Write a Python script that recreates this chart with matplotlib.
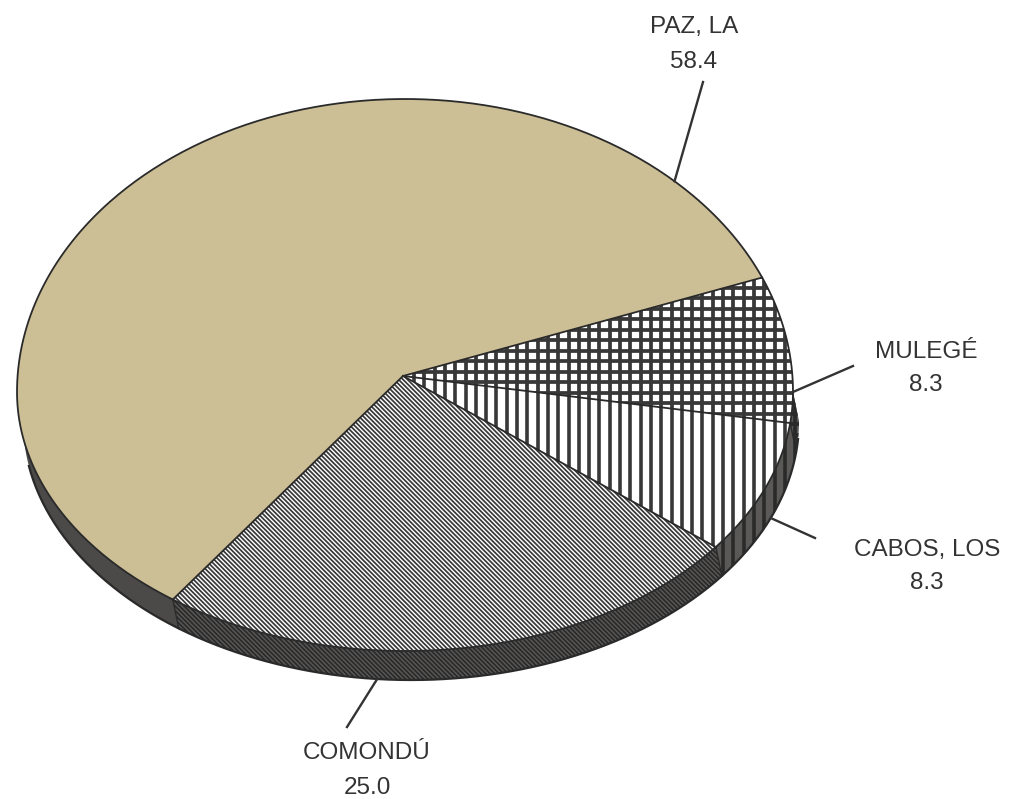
import numpy as np
import matplotlib
matplotlib.use("Agg")
import matplotlib.pyplot as plt
from matplotlib.patches import Polygon
from matplotlib.collections import LineCollection

# Datos: distribución porcentual por municipio
municipios = ["PAZ, LA", "MULEGÉ", "CABOS, LOS", "COMONDÚ"]
porcentajes = [58.4, 8.3, 8.3, 25.0]
etiquetas_valor = ["58.4", "8.3", "8.3", "25.0"]

# estilo de cada rebanada
colores = ["#cdbf95", "white", "white", "white"]
tramas = [None, "grid", "vert", "diag"]

# geometría del "pastel 3D" (en píxeles)
cx, cy, rx = 405, 392, 388
ry_arriba, ry_abajo = 293, 259
apice = (403, 376)
grosor = (6, 29)
inicio = 23 + porcentajes[0] * 3.6   # LA PAZ va en sentido horario desde aquí

# posiciones de las etiquetas y guías
pos_texto = [(694, 27), (926, 352), (927, 550), (367, 753)]
sep_valor = [35, 33, 33, 35]
guia_ext = [(703, 82), (853, 366), (815, 538), (347, 727)]
guia_ang = [46, 0, -22, -95]
guia_lado = [False, False, True, True]

TXT = "#333333"
LINEA = "#2a2a2a"


def borde(t):
    t = np.radians(np.asarray(t, dtype=float))
    s = np.sin(t)
    ry = np.where(s > 0, ry_arriba, ry_abajo)
    return cx + rx * np.cos(t), cy - ry * s


def segmentos(tipo):
    segs = []
    if tipo in ("grid", "vert"):
        for x in np.arange(2, 1009, 10.3):
            segs.append([(x, 0), (x, 799)])
    if tipo == "grid":
        for y in np.arange(4, 799, 10.5):
            segs.append([(0, y), (1009, y)])
    if tipo == "diag":
        for c in np.arange(-1009, 799, 4.5):
            segs.append([(0, c), (1009, c + 1009)])
    return segs


def tramar(ax, parche, tipo, color, z):
    if tipo is None:
        return
    ancho = {"grid": 2.7, "vert": 2.6, "diag": 1.25}[tipo]
    lc = LineCollection(segmentos(tipo), colors=color, linewidths=ancho, zorder=z)
    ax.add_collection(lc)
    lc.set_clip_path(parche)


fig = plt.figure(figsize=(10.09, 7.99), dpi=100)
ax = fig.add_axes([0, 0, 1, 1])
ax.set_xlim(0, 1009)
ax.set_ylim(799, 0)
ax.axis("off")

# rangos angulares de cada rebanada
rangos = []
a = inicio
for v in porcentajes:
    rangos.append((a - v * 3.6, a))
    a = a - v * 3.6

# caras laterales (mitad frontal)
for (lo, hi), trama in zip(rangos, tramas):
    for f0, f1 in [(-180, 0), (180, 360)]:
        a0, a1 = max(lo, f0), min(hi, f1)
        if a1 <= a0:
            continue
        t = np.linspace(a0, a1, 120)
        xs, ys = borde(t)
        pts = list(zip(xs, ys)) + list(zip(xs[::-1] + grosor[0], ys[::-1] + grosor[1]))
        base = "#4b4a49" if trama is None else "#5a5958"
        p = Polygon(pts, closed=True, facecolor=base, edgecolor="none", zorder=1)
        ax.add_patch(p)
        tramar(ax, p, trama, "#2a2a2a", 1.5)

# aristas verticales entre rebanadas (solo las de la mitad frontal)
for lo, hi in rangos:
    if np.sin(np.radians(hi)) < 0:
        bx, by = borde(hi)
        ax.plot([bx, bx + grosor[0]], [by, by + grosor[1]], color=LINEA, lw=1.0, zorder=3)

# caras superiores
for (lo, hi), color, trama in zip(rangos, colores, tramas):
    t = np.linspace(hi, lo, 300)
    xs, ys = borde(t)
    pts = [apice] + list(zip(xs, ys))
    p = Polygon(pts, closed=True, facecolor=color, edgecolor="none", zorder=2)
    ax.add_patch(p)
    tramar(ax, p, trama, "#383838", 2.5)

# contornos
t = np.linspace(0, 360, 600)
xs, ys = borde(t)
ax.plot(xs, ys, color=LINEA, lw=1.3, zorder=4)
t = np.linspace(190, 356, 300)
xs, ys = borde(t)
ax.plot(xs + grosor[0], ys + grosor[1], color=LINEA, lw=1.6, zorder=4)
for lo, hi in rangos:
    bx, by = borde(hi)
    ax.plot([apice[0], bx], [apice[1], by], color=LINEA, lw=1.3, zorder=4)

# etiquetas
fuente = ["Liberation Sans", "DejaVu Sans"]
for nombre, val, (tx, ty), dv, ext, ang, lado in zip(
        municipios, etiquetas_valor, pos_texto, sep_valor, guia_ext, guia_ang, guia_lado):
    ax.text(tx, ty, nombre, ha="center", va="center", fontsize=17.5,
            color=TXT, family=fuente)
    ax.text(tx, ty + dv, val, ha="center", va="center", fontsize=17.5,
            color=TXT, family=fuente)
    bx, by = borde(ang)
    if lado:
        bx, by = bx + grosor[0], by + grosor[1]
    ax.plot([ext[0], bx], [ext[1], by], color="#333333", lw=1.7, zorder=5)

plt.savefig("out.png", dpi=100)
